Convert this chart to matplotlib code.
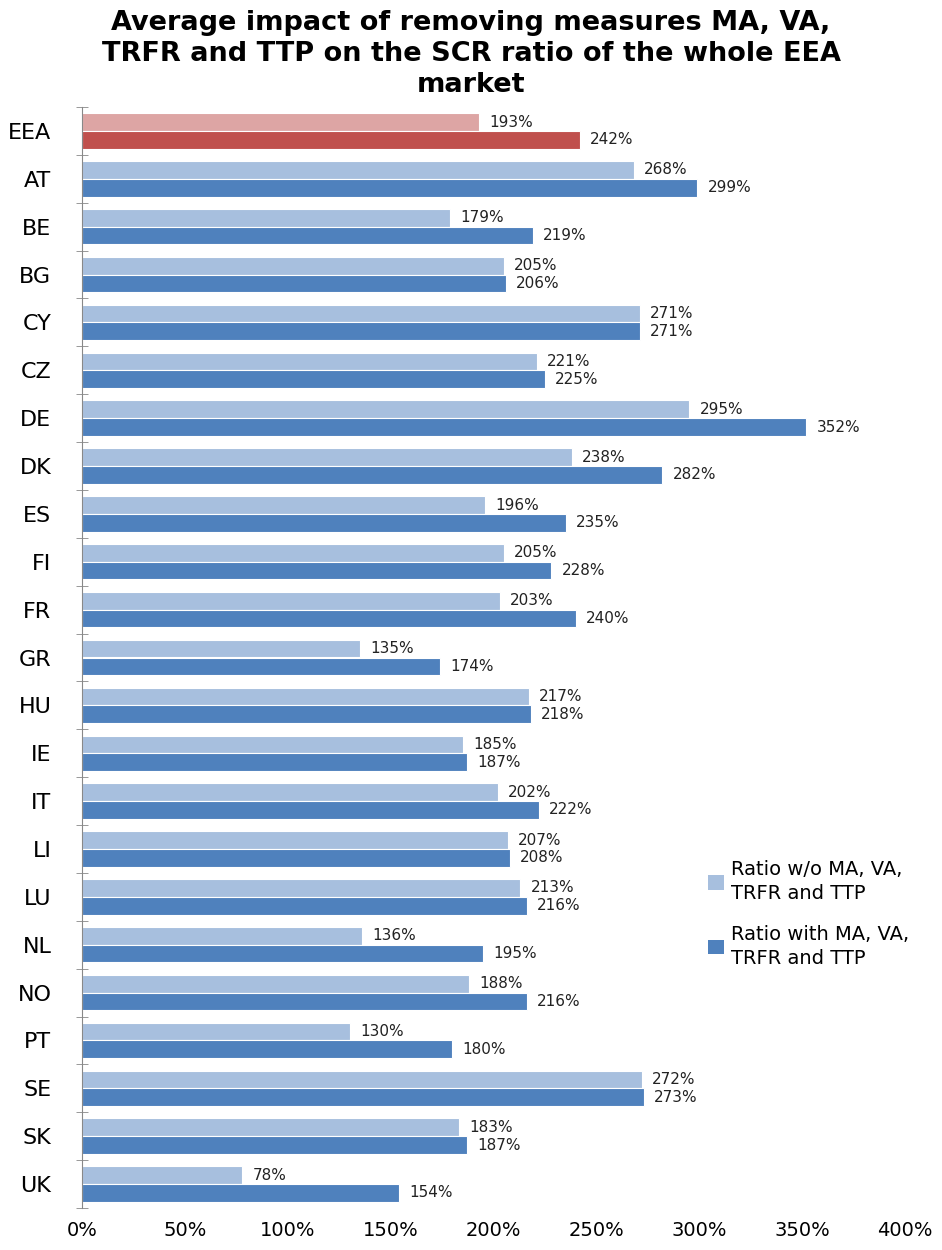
import numpy as np
import matplotlib.pyplot as plt
from matplotlib.patches import Patch

countries = ['EEA', 'AT', 'BE', 'BG', 'CY', 'CZ', 'DE', 'DK', 'ES', 'FI', 'FR', 'GR',
             'HU', 'IE', 'IT', 'LI', 'LU', 'NL', 'NO', 'PT', 'SE', 'SK', 'UK']
ratio_without = [193, 268, 179, 205, 271, 221, 295, 238, 196, 205, 203, 135,
                 217, 185, 202, 207, 213, 136, 188, 130, 272, 183, 78]
ratio_with = [242, 299, 219, 206, 271, 225, 352, 282, 235, 228, 240, 174,
              218, 187, 222, 208, 216, 195, 216, 180, 273, 187, 154]

light_blue = '#A7BFDE'
dark_blue = '#4F81BD'
light_red = '#DDA5A4'
dark_red = '#C0504D'

fig = plt.figure(figsize=(9.42, 12.5), dpi=100)
ax = fig.add_axes([0.087, 0.0336, 0.874, 0.8808])

n = len(countries)
y = np.arange(n)
h = 0.37

c_light = [light_red if c == 'EEA' else light_blue for c in countries]
c_dark = [dark_red if c == 'EEA' else dark_blue for c in countries]

ax.barh(y - h / 2, ratio_without, height=h, color=c_light, edgecolor='white', linewidth=0.8)
ax.barh(y + h / 2, ratio_with, height=h, color=c_dark, edgecolor='white', linewidth=0.8)

for i in range(n):
    ax.text(ratio_without[i] + 5, y[i] - h / 2, '%d%%' % ratio_without[i],
            va='center', ha='left', fontsize=11, color='#222222')
    ax.text(ratio_with[i] + 5, y[i] + h / 2, '%d%%' % ratio_with[i],
            va='center', ha='left', fontsize=11, color='#222222')

ax.set_xlim(0, 400)
ax.set_ylim(n - 0.5, -0.5)
ax.set_xticks(np.arange(0, 401, 50))
ax.set_xticklabels(['%d%%' % v for v in range(0, 401, 50)], fontsize=14)
ax.set_yticks(y)
ax.set_yticklabels(countries, fontsize=16)
ax.set_yticks(np.arange(-0.5, n, 1), minor=True)
ax.tick_params(axis='y', which='major', length=0, pad=22)
ax.tick_params(axis='y', which='minor', length=9, direction='inout', color='#888888')
ax.tick_params(axis='x', length=0, pad=9)

for s in ['top', 'right', 'bottom']:
    ax.spines[s].set_visible(False)
ax.spines['left'].set_color('#888888')

handles = [Patch(facecolor=light_blue, label='Ratio w/o MA, VA,\nTRFR and TTP'),
           Patch(facecolor=dark_blue, label='Ratio with MA, VA,\nTRFR and TTP')]
leg = fig.legend(handles=handles, loc='upper left', bbox_to_anchor=(0.733, 0.326),
                 frameon=False, fontsize=14, handlelength=0.8, handleheight=0.8,
                 handletextpad=0.4, labelspacing=1.1)
for t in leg.get_texts():
    t.set_linespacing(1.35)

fig.text(0.5, 0.992, 'Average impact of removing measures MA, VA,\nTRFR and TTP on the SCR ratio of the whole EEA\nmarket',
         ha='center', va='top', fontsize=19.5, fontweight='bold', linespacing=1.25)

fig.savefig('out.png', dpi=100)
